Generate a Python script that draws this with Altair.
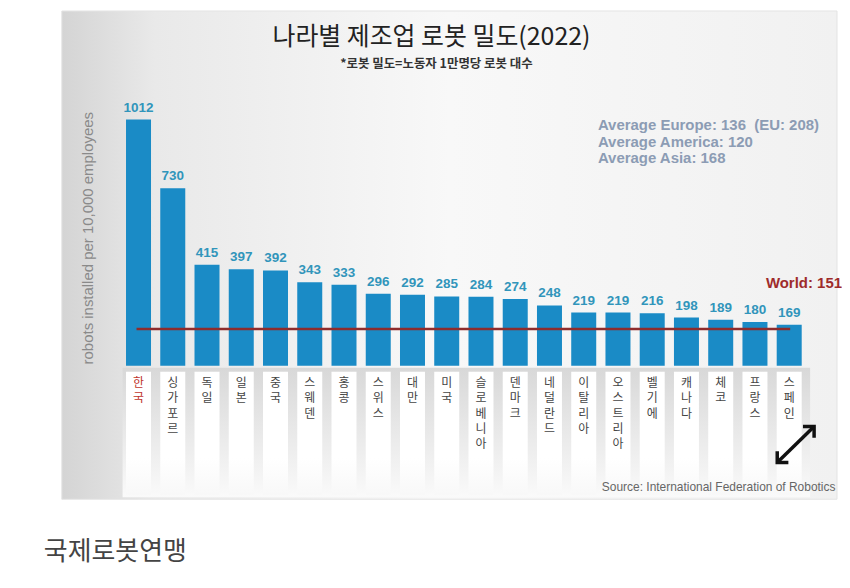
import altair as alt
import pandas as pd

countries = ["한국", "싱가포르", "독일", "일본", "중국", "스웨덴", "홍콩", "스위스", "대만", "미국",
             "슬로베니아", "덴마크", "네덜란드", "이탈리아", "오스트리아", "벨기에", "캐나다", "체코", "프랑스", "스페인"]
values = [1012, 730, 415, 397, 392, 343, 333, 296, 292, 285, 284, 274, 248, 219, 219, 216, 198, 189, 180, 169]
world_avg = 151
title_text = "나라별 제조업 로봇 밀도(2022)"
subtitle_text = "*로봇 밀도=노동자 1만명당 로봇 대수"
avg_lines = ["Average Europe: 136 \u00a0(EU: 208)", "Average America: 120", "Average Asia: 168"]
y_title = "robots installed per 10,000 employees"
source_text = "Source: International Federation of Robotics"
caption_text = "국제로봇연맹"

df = pd.DataFrame({
    "country": countries,
    "value": values,
    "vlabel": ["\n".join(list(c)) for c in countries],
    "hl": ["y" if i == 0 else "n" for i in range(len(countries))],
})

W, H = 834, 570
x_scale = alt.Scale(domain=countries, range=[113.8, 801.2], paddingInner=0.27, paddingOuter=0.135)
y_scale = alt.Scale(domain=[0, 1012], range=[358, 111], nice=False, zero=True)
X = alt.X("country:N", scale=x_scale, sort=countries, axis=None)
Y = alt.Y("value:Q", scale=y_scale, axis=None)

one = pd.DataFrame({"k": [0]})

panel = alt.Chart(one).mark_rect(
    stroke="#e4e4e4", strokeWidth=1,
    fill=alt.LinearGradient(gradient="linear", x1=0, x2=1, y1=0, y2=0, stops=[
        alt.GradientStop(color="#d4d4d4", offset=0),
        alt.GradientStop(color="#e9e9e9", offset=0.12),
        alt.GradientStop(color="#f8f8f8", offset=0.5),
        alt.GradientStop(color="#f1f1f1", offset=1)])
).encode(x=alt.value(54), x2=alt.value(832), y=alt.value(2), y2=alt.value(492))

bottom = alt.Chart(one).mark_rect(
    fill=alt.LinearGradient(gradient="linear", x1=0, x2=0, y1=0, y2=1, stops=[
        alt.GradientStop(color="#d8d8d8", offset=0),
        alt.GradientStop(color="#f3f3f3", offset=0.8),
        alt.GradientStop(color="#fafafa", offset=1)])
).encode(x=alt.value(115), x2=alt.value(805), y=alt.value(360), y2=alt.value(490))

strips = alt.Chart(df).mark_bar(
    fill=alt.LinearGradient(gradient="linear", x1=0, x2=0, y1=0, y2=1, stops=[
        alt.GradientStop(color="#ffffff", offset=0),
        alt.GradientStop(color="#ffffff", offset=0.7),
        alt.GradientStop(color="#f8f8f8", offset=1)])
).encode(x=X, y=alt.value(364), y2=alt.value(488))

bars = alt.Chart(df).mark_bar(color="#1a8bc6").encode(
    x=X, y=Y, y2=alt.datum(0))

vals = alt.Chart(df).mark_text(
    font="Liberation Sans", fontSize=13.5, fontWeight="bold", color="#3195bb", baseline="bottom", dy=-5
).encode(x=X, y=Y, text="value:Q")

world = alt.Chart(one).mark_rule(color="#8e2c2c", strokeWidth=2.5).encode(
    x=alt.value(129), x2=alt.value(785), y=alt.YDatum(world_avg, scale=y_scale, axis=None))

world_lbl = alt.Chart(pd.DataFrame({"t": ["World: %d" % world_avg]})).mark_text(
    font="Liberation Sans", fontSize=15, fontWeight="bold", color="#9e2b2b", align="right", baseline="middle"
).encode(x=alt.value(837), y=alt.value(275), text="t:N")

xl = alt.Chart(df).mark_text(
    font="Noto Sans CJK KR", fontSize=12, lineBreak="\n", lineHeight=15.5, baseline="top"
).encode(
    x=X, y=alt.value(370), text="vlabel:N",
    color=alt.Color("hl:N", scale=alt.Scale(domain=["y", "n"], range=["#c0342c", "#444444"]), legend=None))

title = alt.Chart(pd.DataFrame({"t": [title_text]})).mark_text(
    font="Noto Sans CJK KR", fontSize=25, color="#222222", baseline="middle"
).encode(x=alt.value(425), y=alt.value(28), text="t:N")

sub = alt.Chart(pd.DataFrame({"t": [subtitle_text]})).mark_text(
    font="Noto Sans CJK KR", fontSize=12.5, fontWeight="bold", color="#333333", baseline="middle"
).encode(x=alt.value(430), y=alt.value(55), text="t:N")

ytitle = alt.Chart(pd.DataFrame({"t": [y_title]})).mark_text(
    font="Liberation Sans", fontSize=15, color="#8a8a8a", angle=270, baseline="middle"
).encode(x=alt.value(80), y=alt.value(230), text="t:N")

avg = alt.Chart(pd.DataFrame({"t": ["\n".join(avg_lines)]})).mark_text(
    font="Liberation Sans", fontSize=15, fontWeight="bold", color="#8c9cb4", align="left", baseline="top",
    lineBreak="\n", lineHeight=17
).encode(x=alt.value(592), y=alt.value(109), text="t:N")

src = alt.Chart(pd.DataFrame({"t": [source_text]})).mark_text(
    font="Liberation Sans", fontSize=12, color="#666666", align="left", baseline="middle"
).encode(x=alt.value(596), y=alt.value(480), text="t:N")

cap = alt.Chart(pd.DataFrame({"t": [caption_text]})).mark_text(
    font="Noto Sans CJK KR", fontSize=26, color="#444444", align="left", baseline="middle"
).encode(x=alt.value(36), y=alt.value(545), text="t:N")

# expand icon (two arrows)
arrow_lines = alt.Chart(one).mark_rule(color="#111111", strokeWidth=3.5).encode(
    x=alt.value(772), y=alt.value(455), x2=alt.value(809), y2=alt.value(419))
head_up = alt.Chart(one).mark_point(
    shape="M -1 0 L 0 0 L 0 1", filled=False, color="#111111", strokeWidth=3.5, size=500, opacity=1
).encode(x=alt.value(809), y=alt.value(419))
head_dn = alt.Chart(one).mark_point(
    shape="M 1 0 L 0 0 L 0 -1", filled=False, color="#111111", strokeWidth=3.5, size=500, opacity=1
).encode(x=alt.value(772), y=alt.value(455))

chart = alt.layer(panel, bottom, strips, bars, world, vals, world_lbl, xl, title, sub, ytitle, avg, src, cap,
                  arrow_lines, head_up, head_dn
).properties(width=W, height=H, padding=0, background="#ffffff").configure_view(stroke=None)

chart.save("out.html", embed_options={"renderer": "svg", "actions": False})
